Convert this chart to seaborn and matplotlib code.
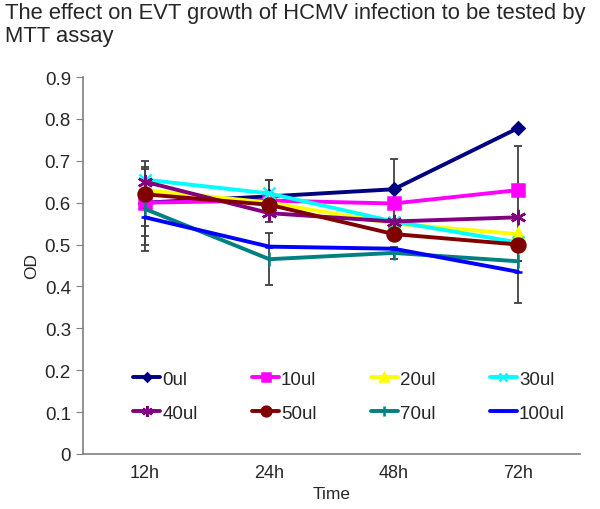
import numpy as np
import pandas as pd
import matplotlib
matplotlib.use("Agg")
import matplotlib.pyplot as plt
import seaborn as sns

# -----------------------------
# data
# -----------------------------
times = ["12h", "24h", "48h", "72h"]
groups = ["0ul", "10ul", "20ul", "30ul", "40ul", "50ul", "70ul", "100ul"]

od_0 = [0.600, 0.615, 0.632, 0.778]
od_10 = [0.600, 0.605, 0.598, 0.630]
od_20 = [0.630, 0.600, 0.550, 0.525]
od_30 = [0.655, 0.622, 0.555, 0.505]
od_40 = [0.650, 0.575, 0.555, 0.565]
od_50 = [0.620, 0.595, 0.525, 0.500]
od_70 = [0.585, 0.465, 0.480, 0.460]
od_100 = [0.565, 0.495, 0.490, 0.435]

# error bars (only some groups show visible whiskers)
err_0 = [0.100, 0.040, 0.072, 0.000]
err_10 = [0.080, 0.050, 0.000, 0.105]
err_70 = [0.100, 0.062, 0.015, 0.000]
err_100 = [0.020, 0.000, 0.000, 0.075]

palette = ["#000080", "#FF00FF", "#FFFF00", "#00FFFF",
           "#800080", "#800000", "#008080", "#0000FF"]
markers = ["D", "s", "^", "x", (6, 2, 0), "o", "|", "_"]
msizes = [6, 9, 8, 9, 11, 10, 10, 6]

values = [od_0, od_10, od_20, od_30, od_40, od_50, od_70, od_100]
df = pd.DataFrame({
    "Time": np.tile(np.arange(len(times)), len(groups)),
    "OD": np.concatenate(values),
    "group": np.repeat(groups, len(times)),
})

# -----------------------------
# plot
# -----------------------------
sns.set_style("white")
plt.rcParams["font.family"] = ["Liberation Sans", "DejaVu Sans"]

fig = plt.figure(figsize=(6, 5.1), dpi=100)
ax = fig.add_axes([0.138, 0.108, 0.829, 0.739])

# gray error bars
for vals, err in [(od_0, err_0), (od_10, err_10), (od_70, err_70), (od_100, err_100)]:
    ax.errorbar(np.arange(len(times)), vals, yerr=err, fmt="none",
                ecolor="#404040", elinewidth=1.3, capsize=3, capthick=1.3, zorder=1)

for g, c, m, ms in zip(groups, palette, markers, msizes):
    sub = df[df["group"] == g]
    sns.lineplot(data=sub, x="Time", y="OD", ax=ax, color=c, marker=m,
                 markersize=ms, markeredgewidth=1.8, markeredgecolor=c,
                 linewidth=2.8, label=g, zorder=3)

ax.set_xlim(-0.5, 3.5)
ax.set_ylim(0, 0.9)
ax.set_yticks(np.arange(0, 0.91, 0.1))
ax.set_yticklabels(["0"] + [f"{v:.1f}" for v in np.arange(0.1, 0.91, 0.1)])
ax.set_xticks(range(len(times)))
ax.set_xticklabels(times)
ax.set_xticks([0.5, 1.5, 2.5], minor=True)
ax.tick_params(axis="x", which="major", length=0, labelsize=13, pad=7)
ax.tick_params(axis="x", which="minor", length=5, color="#808080", direction="in")
ax.tick_params(axis="y", length=5, color="#808080", direction="out", labelsize=13.5, left=True)
for s in ["top", "right"]:
    ax.spines[s].set_visible(False)
for s in ["left", "bottom"]:
    ax.spines[s].set_color("#808080")
    ax.spines[s].set_linewidth(1.2)

ax.set_xlabel("Time", fontsize=12.5, labelpad=4)
ax.set_ylabel("OD", fontsize=12.5)

# legend filled row by row like the reference
handles, labels = ax.get_legend_handles_labels()
order = [0, 4, 1, 5, 2, 6, 3, 7]
ax.legend([handles[i] for i in order], [labels[i] for i in order],
          ncol=4, frameon=False, fontsize=13.5, loc="lower center",
          bbox_to_anchor=(0.535, 0.04), handlelength=1.45, handletextpad=0.1,
          columnspacing=2.9, labelspacing=0.9, markerscale=0.7)

fig.text(0.008, 0.995, "The effect on EVT growth of HCMV infection to be tested by\nMTT assay",
         fontsize=15.8, va="top", ha="left", linespacing=1.15)

fig.savefig("out.png", dpi=100)
